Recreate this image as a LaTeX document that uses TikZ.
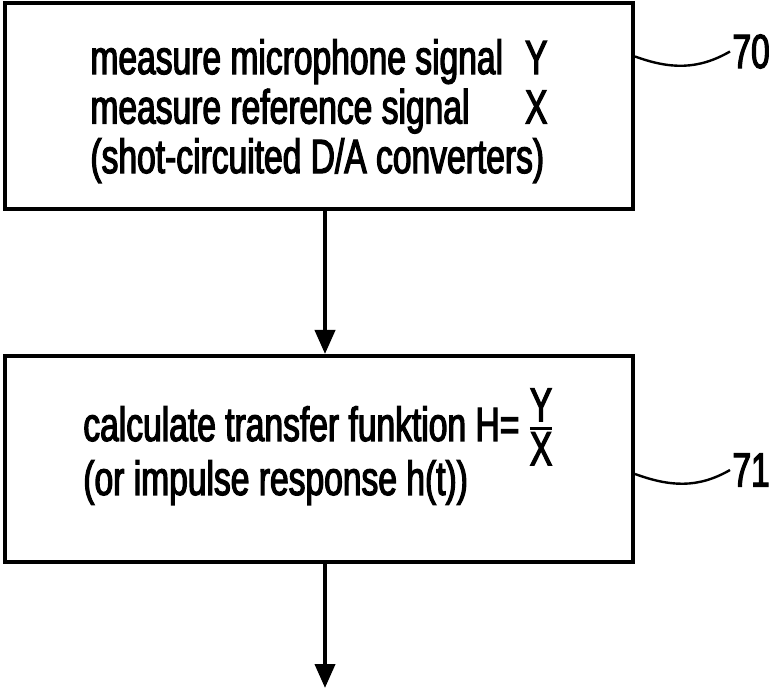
\documentclass[tikz,border=0pt]{standalone}
\usepackage{amsmath}
\usepackage{fontspec}
\setmainfont{Liberation Sans}[FakeStretch=0.70, FakeBold=2.5]
\usetikzlibrary{arrows.meta}

\begin{document}
\begin{tikzpicture}
            [x=0.5pt, y=0.5pt,
             every node/.style = {font=\fontsize{24pt}{24.5pt}\selectfont},
             stepbox/.style = {draw, line width=2pt, minimum width=314pt, minimum height=103pt, inner sep=0pt, align=left},
             flow/.style = {line width=2pt, -{Triangle[length=12pt, width=10pt]}},
             leader/.style = {line width=1.2pt},
             refnum/.style = {anchor=west, inner sep=1pt}]

            \useasboundingbox (0,0) rectangle (769,690);

            \node[stepbox] (measure) at (319,583.5) {\raisebox{0pt}[\dimexpr\height+7pt\relax]{\begin{tabular}{@{}l@{\hspace{11pt}}l@{}}
                measure microphone signal & Y\\
                measure reference signal & X\\
                \multicolumn{2}{@{}l@{}}{(shot-circuited D/A converters)}
            \end{tabular}}};
            \node[stepbox] (transfer) at (319,231) {\raisebox{0pt}[\height][\dimexpr\depth+10pt\relax]{\begin{tabular}{@{}l@{}}
                calculate transfer funktion H=\,$\genfrac{}{}{1.2pt}{1}{\mbox{Y}}{\mbox{X}}$\\[-2.5pt]
                (or impulse response h(t))
            \end{tabular}}};

            \node[refnum] (n70) at (730,638.5) {70};
            \node[refnum] (n71) at (730,220) {71};
            \coordinate (exit) at (325,2);

            \draw[flow] (measure.south -| exit) -- (transfer.north -| exit);
            \draw[flow] (transfer.south -| exit) -- (exit);
            \draw[leader] ([yshift=-2.5pt]measure.east |- n70.west) to[out=-20, in=210] (n70.west);
            \draw[leader] ([yshift=-2pt]transfer.east |- n71.west) to[out=-20, in=210] (n71.west);

        \end{tikzpicture}
\end{document}
